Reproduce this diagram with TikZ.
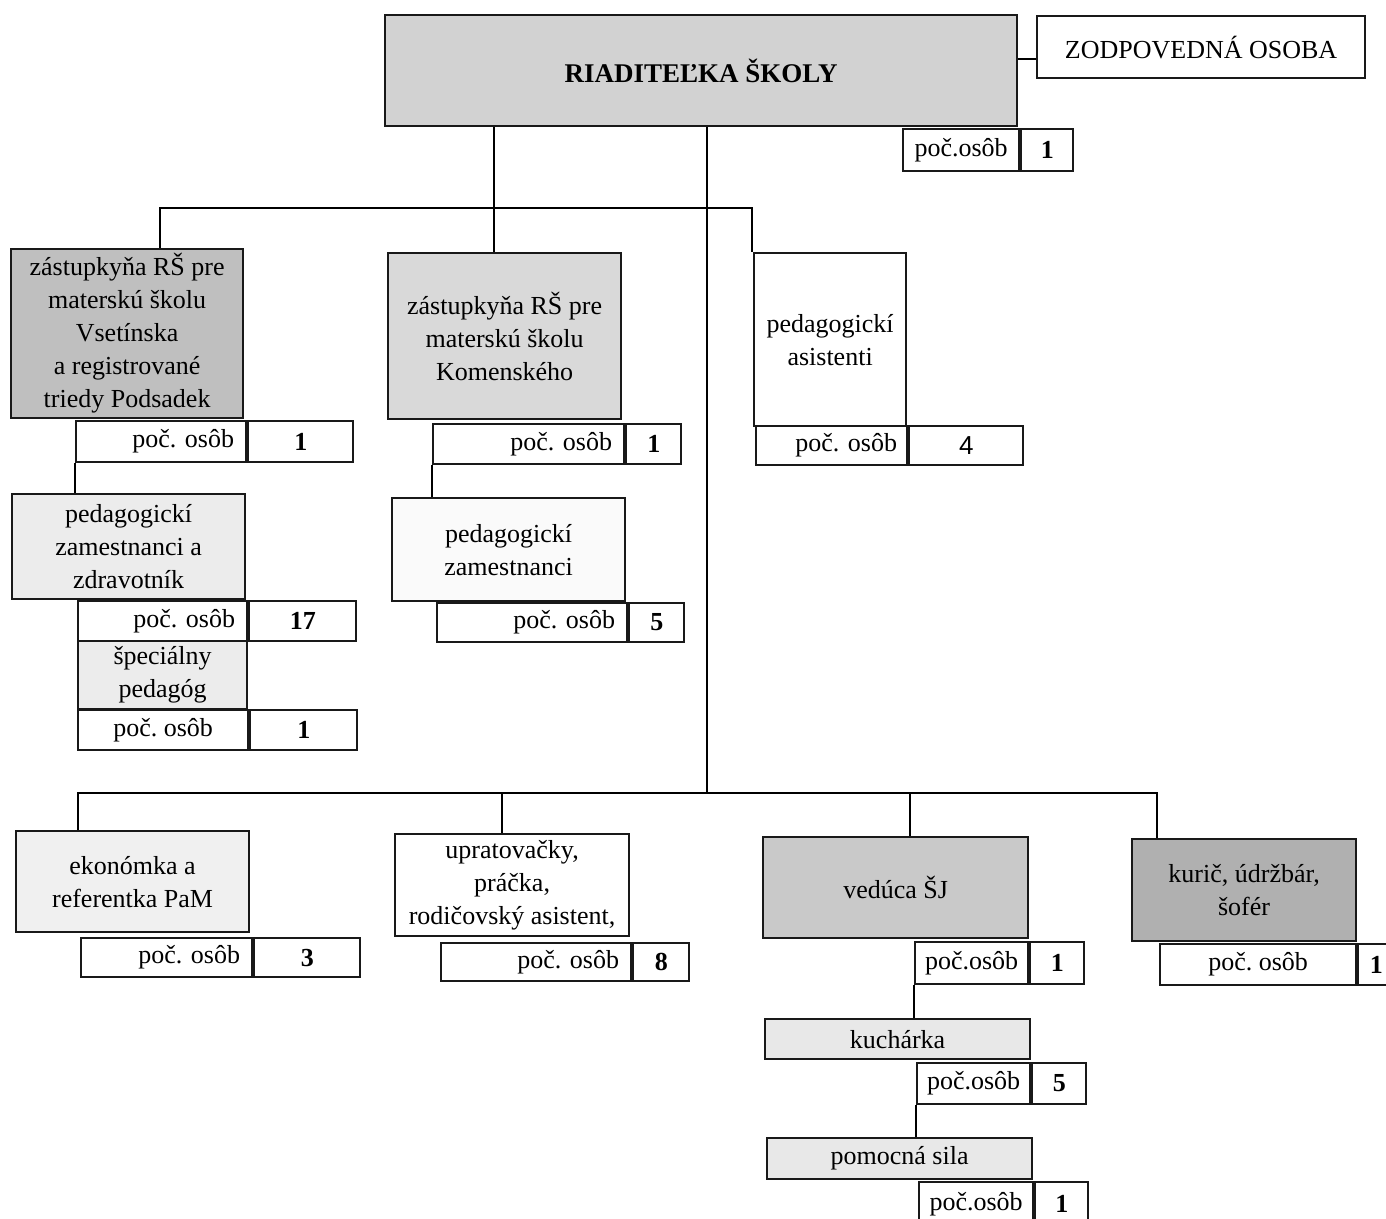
\documentclass[tikz,border=0pt]{standalone}
\usepackage{fontspec}
\setmainfont{Liberation Serif}
\setsansfont{Liberation Sans}
\usetikzlibrary{positioning}

\newcommand{\velkost}{\fontsize{13}{16.5}\selectfont\frenchspacing}

\begin{document}
\begin{tikzpicture}[x=0.5pt, y=-0.5pt, line width=0.75pt]
\tikzset{
  unit/.style={draw=black!90, line width=1.1pt, anchor=north west, align=center, inner xsep=2pt, inner ysep=0pt, font=\velkost},
  lab/.style={unit, fill=white, inner sep=0pt},
  labR/.style={lab, align=right, inner xsep=6pt, text width=#1},
  num/.style={lab, font=\velkost\bfseries},
}
\useasboundingbox (0,0) rectangle (1386,1219);

% riaditelka
\node[unit, fill=gray!35, minimum width=316pt, minimum height=55.5pt, font=\fontsize{13.5}{16.5}\selectfont\bfseries] (riad) at (384,14) {RIADITEĽKA ŠKOLY};
\node[unit, minimum width=164pt, minimum height=31pt] (zodp) at (1036,15) {ZODPOVEDNÁ OSOBA};
\node[lab, minimum width=58pt, minimum height=21pt] (riadL) at (902,128) {poč.osôb};
\node[num, minimum width=26pt, minimum height=21pt, right=0pt of riadL] (riadN) {1};

% MS Vsetinska
\node[unit, fill=gray!50, minimum width=116pt, minimum height=84.5pt] (vset) at (10,248) {zástupkyňa RŠ pre\\materskú školu\\Vsetínska\\a registrované\\triedy Podsadek};
\node[labR=73pt, minimum width=85pt, minimum height=20.5pt] (vsetL) at (75,420) {poč. osôb};
\node[num, minimum width=52.5pt, minimum height=20.5pt, right=0pt of vsetL] (vsetN) {1};
\node[unit, fill=gray!15, minimum width=116.5pt, minimum height=52.5pt] (pzz) at (11,493) {pedagogickí\\zamestnanci a\\zdravotník};
\node[labR=72.5pt, minimum width=84.5pt, minimum height=20pt] (pzzL) at (77,600) {poč. osôb};
\node[num, minimum width=53.5pt, minimum height=20pt, right=0pt of pzzL] (pzzN) {17};
\node[unit, fill=gray!15, minimum width=84.5pt, minimum height=34pt] (spec) at (77,640) {špeciálny\\pedagóg};
\node[lab, minimum width=85pt, minimum height=20pt] (specL) at (77,709) {poč. osôb};
\node[num, minimum width=53.5pt, minimum height=20pt, right=0pt of specL] (specN) {1};

% MS Komenskeho
\node[unit, fill=gray!30, minimum width=116.5pt, minimum height=83pt] (kom) at (387,252) {zástupkyňa RŠ pre\\materskú školu\\Komenského};
\node[labR=83.5pt, minimum width=95.5pt, minimum height=20pt] (komL) at (432,423) {poč. osôb};
\node[num, minimum width=27.5pt, minimum height=20pt, right=0pt of komL] (komN) {1};
\node[unit, fill=gray!4, minimum width=116.5pt, minimum height=51.5pt] (pz) at (391,497) {pedagogickí\\zamestnanci};
\node[labR=83pt, minimum width=95pt, minimum height=19.5pt] (pzL) at (436,602) {poč. osôb};
\node[num, minimum width=27.5pt, minimum height=19.5pt, right=0pt of pzL] (pzN) {5};

% asistenti
\node[unit, minimum width=76pt, minimum height=86.5pt] (pa) at (753,252) {pedagogickí\\asistenti};
\node[labR=65.5pt, inner xsep=5pt, minimum width=75.5pt, minimum height=19.5pt] (paL) at (755,425) {poč. osôb};
\node[num, font=\velkost\sffamily, minimum width=57pt, minimum height=19.5pt, right=0pt of paL] (paN) {4};

% prevadzka
\node[unit, fill=gray!12, minimum width=116.5pt, minimum height=50.5pt] (ekon) at (15,830) {ekonómka a\\referentka PaM};
\node[labR=73.5pt, minimum width=85.5pt, minimum height=19.5pt] (ekonL) at (80,937) {poč. osôb};
\node[num, minimum width=53pt, minimum height=19.5pt, right=0pt of ekonL] (ekonN) {3};
\node[unit, minimum width=117pt, minimum height=51pt] (uprat) at (394,833) {upratovačky,\\práčka,\\rodičovský asistent,};
\node[labR=83pt, minimum width=95pt, minimum height=19pt] (upratL) at (440,942) {poč. osôb};
\node[num, minimum width=28pt, minimum height=19pt, right=0pt of upratL] (upratN) {8};

% skolska jedalen
\node[unit, fill=gray!42, minimum width=132.5pt, minimum height=50.5pt] (ved) at (762,836) {vedúca ŠJ};
\node[lab, minimum width=56.5pt, minimum height=21pt] (vedL) at (914,941) {poč.osôb};
\node[num, minimum width=27pt, minimum height=21pt, right=0pt of vedL] (vedN) {1};
\node[unit, fill=gray!18, minimum width=132.5pt, minimum height=20pt] (kuch) at (764,1018) {kuchárka};
\node[lab, minimum width=56.5pt, minimum height=20.5pt] (kuchL) at (916,1062) {poč.osôb};
\node[num, minimum width=27pt, minimum height=20.5pt, right=0pt of kuchL] (kuchN) {5};
\node[unit, fill=gray!18, minimum width=132.5pt, minimum height=20.5pt] (pom) at (766,1137) {pomocná sila};
\node[lab, minimum width=57pt, minimum height=22pt] (pomL) at (918,1181) {poč.osôb};
\node[num, minimum width=26.5pt, minimum height=22pt, right=0pt of pomL] (pomN) {1};

% kuric
\node[unit, fill=gray!62, minimum width=112pt, minimum height=51pt] (kur) at (1131,838) {kurič, údržbár,\\šofér};
\node[lab, minimum width=98pt, minimum height=20.5pt] (kurL) at (1159,943) {poč. osôb};
\node[num, minimum width=18pt, minimum height=20.5pt, right=0pt of kurL] (kurN) {1};

% spojnice
\coordinate (z1) at ([yshift=-6pt]zodp.west);
\draw (z1) -- (z1 -| riad.east);

\coordinate (hL) at (160,208);
\coordinate (h1) at (494,208);
\coordinate (hR) at (752,208);
\draw (riad.south -| h1) -- (kom.north -| h1);
\draw (vset.north -| hL) -- (hL) -- (hR) -- (pa.north -| hR);

\coordinate (dL) at (78,793);
\coordinate (d1) at (707,793);
\coordinate (d2) at (502,793);
\coordinate (d3) at (910,793);
\coordinate (dR) at (1157,793);
\draw (riad.south -| d1) -- (d1);
\draw (ekon.north -| dL) -- (dL) -- (dR) -- (kur.north -| dR);
\draw (d2) -- (uprat.north -| d2);
\draw (d3) -- (ved.north -| d3);

\draw (vsetL.south west) -- (vsetL.south west |- pzz.north);
\draw (komL.south west) -- (komL.south west |- pz.north);
\draw (vedL.south west) -- (vedL.south west |- kuch.north);
\draw (kuchL.south west) -- (kuchL.south west |- pom.north);

\end{tikzpicture}
\end{document}
